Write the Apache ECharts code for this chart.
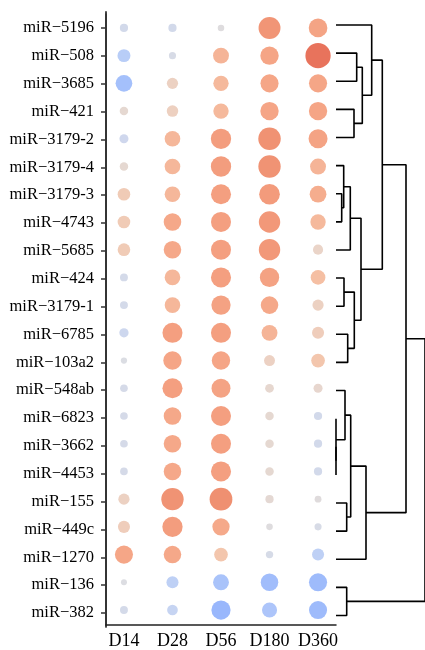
<!DOCTYPE html>
<html>
<head>
<meta charset="utf-8">
<title>miRNA dot plot</title>
<script src="https://cdn.jsdelivr.net/npm/echarts@6/dist/echarts.min.js"></script>
<style>
  html, body { margin: 0; padding: 0; background: #fff; }
  #chart { width: 425px; height: 650px; }
</style>
</head>
<body>
<div id="chart"></div>
<script>
const mirs = [
  'miR−5196', 'miR−508', 'miR−3685', 'miR−421', 'miR−3179-2', 'miR−3179-4',
  'miR−3179-3', 'miR−4743', 'miR−5685', 'miR−424', 'miR−3179-1', 'miR−6785',
  'miR−103a2', 'miR−548ab', 'miR−6823', 'miR−3662', 'miR−4453', 'miR−155',
  'miR−449c', 'miR−1270', 'miR−136', 'miR−382'
];
const days = ['D14', 'D28', 'D56', 'D180', 'D360'];

// one value per miRNA (top to bottom), colour and dot size both follow it
const d14  = [-0.4, -1.27, -1.95, 0.45, -0.55, 0.45, 1.2, 1.2, 1.2, -0.35, -0.35, -0.6, -0.05, -0.3, -0.3, -0.3, -0.3, 0.95, 1.1, 2.2, 0, -0.35];
const d28  = [-0.4, -0.2, 0.95, 1.0, 1.75, 1.75, 1.75, 2.1, 2.1, 1.75, 1.75, 2.55, 2.25, 2.55, 2.1, 2.1, 2.1, 2.97, 2.6, 2.1, -1.1, -0.85];
const d56  = [0.1, 1.8, 1.7, 1.7, 2.6, 2.6, 2.55, 2.55, 2.55, 2.55, 2.42, 2.55, 2.25, 2.36, 2.55, 2.55, 2.55, 3.04, 2.05, 1.4, -1.8, -2.4];
const d180 = [2.9, 2.25, 2.2, 2.25, 3.0, 2.97, 2.67, 2.8, 2.8, 2.42, 2.1, 1.8, 0.9, 0.5, 0.45, 0.45, 0.45, 0.4, 0.1, -0.25, -2.1, -1.65];
const d360 = [2.3, 3.5, 2.2, 2.25, 2.36, 1.8, 1.95, 1.7, 0.75, 1.58, 0.95, 1.1, 1.4, 0.55, -0.4, -0.4, -0.4, 0.15, -0.2, -1.1, -2.2, -2.2];

// row clustering: [node a, node b, merge height]; leaves are 0..21, each merge gets the next id (22, 23, ...)
const merges = [
  [15, 16, 0], [14, 22, 0], [6, 7, 5.7], [5, 24, 7.7], [9, 10, 8],
  [13, 23, 9], [17, 18, 10.7], [20, 21, 10.7], [11, 12, 11.7], [8, 25, 14.3],
  [27, 28, 14.7], [3, 4, 18], [26, 30, 18.3], [1, 2, 20.7], [31, 34, 25],
  [35, 33, 26.3], [32, 19, 30], [0, 37, 35.7], [39, 36, 46.3], [40, 38, 70],
  [41, 29, 89]
];

const palette = [
  '#97B5FC', '#A3BFFB', '#B1C8F9', '#C1D2F4', '#D0D8EC', '#DCDDE2', '#E6D7CF',
  '#EDD0C0', '#F5C3A8', '#F5AA8B', '#F4A081', '#F09273', '#E8735C'
];

const font = 'Liberation Serif, Times New Roman, serif';

const dots = [];
[d14, d28, d56, d180, d360].forEach((col, i) => {
  col.forEach((v, j) => dots.push([i, j, v]));
});

const nodeY = mirs.map((_, i) => i);
const nodeH = mirs.map(() => 0);
const branches = [];
merges.forEach(([a, b, h]) => {
  branches.push({
    type: 'line',
    xAxisIndex: 1,
    yAxisIndex: 1,
    symbol: 'none',
    silent: true,
    clip: false,
    lineStyle: { color: '#000', width: 1.6 },
    data: [[nodeH[a], nodeY[a]], [h, nodeY[a]], [h, nodeY[b]], [nodeH[b], nodeY[b]]]
  });
  nodeY.push((nodeY[a] + nodeY[b]) / 2);
  nodeH.push(h);
});

const chart = echarts.init(document.getElementById('chart'));

chart.setOption({
  animation: false,
  backgroundColor: '#fff',
  grid: [
    { left: 106, top: 12, width: 230, height: 616 },
    { left: 335, top: 10.94, width: 90, height: 618.6 },
    // row names and ticks: category bands lined up with the dot rows
    { left: 106, top: 14.07, width: 230, height: 612.86 }
  ],
  xAxis: [
    {
      type: 'value',
      gridIndex: 0,
      min: -0.37,
      max: 4.37,
      axisLine: { show: true, onZero: false, lineStyle: { color: '#222', width: 1.5 } },
      axisTick: { show: false },
      splitLine: { show: false },
      axisLabel: {
        customValues: [0, 1, 2, 3, 4],
        formatter: v => days[Math.round(v)],
        color: '#000',
        fontFamily: font,
        fontSize: 18,
        margin: 7
      }
    },
    { type: 'value', gridIndex: 1, min: -1, max: 89, show: false },
    { type: 'value', gridIndex: 2, show: false }
  ],
  yAxis: [
    {
      type: 'value',
      gridIndex: 0,
      inverse: true,
      min: -0.574,
      max: 21.54,
      axisLine: { show: true, onZero: false, lineStyle: { color: '#333', width: 1.8 } },
      axisTick: { show: false },
      axisLabel: { show: false },
      splitLine: { show: false }
    },
    { type: 'value', gridIndex: 1, inverse: true, min: -0.5, max: 21.5, show: false },
    {
      type: 'category',
      gridIndex: 2,
      inverse: true,
      data: mirs,
      axisLine: { show: true, onZero: false, lineStyle: { color: '#333', width: 1.8 } },
      axisTick: {
        show: true,
        interval: 0,
        alignWithLabel: true,
        length: 5,
        lineStyle: { color: '#333', width: 1.5 }
      },
      axisLabel: {
        interval: 0,
        color: '#000',
        fontFamily: font,
        fontSize: 16.5,
        margin: 12
      }
    }
  ],
  visualMap: {
    type: 'continuous',
    show: false,
    seriesIndex: 0,
    dimension: 2,
    min: -2.5,
    max: 3.5,
    inRange: { color: palette }
  },
  series: [
    {
      type: 'scatter',
      xAxisIndex: 0,
      yAxisIndex: 0,
      data: dots,
      symbolSize: d => 6 + 5.5 * Math.abs(d[2]),
      itemStyle: { opacity: 1 },
      silent: true
    }
  ].concat(branches)
});
</script>
</body>
</html>
